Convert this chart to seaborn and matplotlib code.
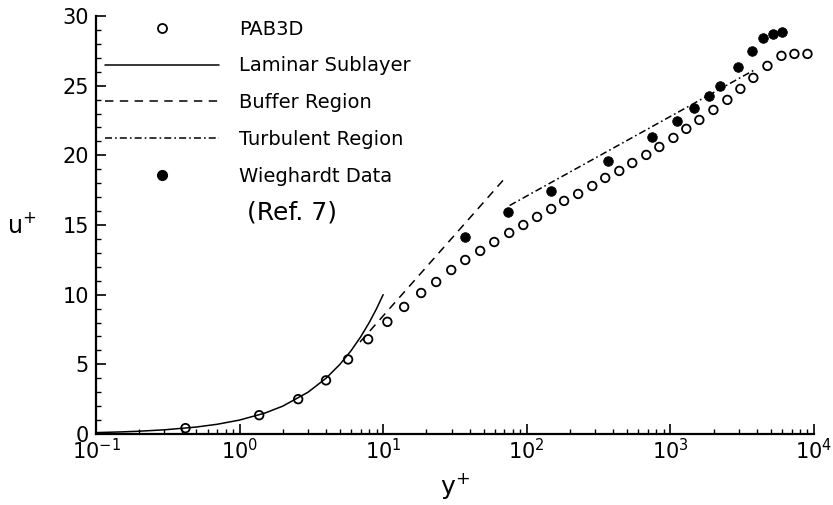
import matplotlib
matplotlib.use("Agg")
import matplotlib.pyplot as plt
import seaborn as sns
import numpy as np
from matplotlib.lines import Line2D
from matplotlib.ticker import LogLocator, MultipleLocator

# PAB3D computed profile (open circles)
pab_y = [0.42, 1.37, 2.56, 4.0, 5.7, 7.86, 10.7, 14.0, 18.4, 23.4, 29.8, 37.3, 47.4, 59.4,
         75.5, 94.6, 118, 148, 182, 228, 286, 352, 441, 543, 680, 838, 1050, 1292, 1592,
         1995, 2495, 3075, 3785, 4744, 5940, 7311, 9015]
pab_u = [0.42, 1.35, 2.5, 3.85, 5.35, 6.8, 8.05, 9.12, 10.12, 10.91, 11.77, 12.49, 13.14, 13.78,
         14.43, 15.0, 15.58, 16.15, 16.73, 17.23, 17.8, 18.38, 18.88, 19.45, 20.03, 20.6, 21.25,
         21.9, 22.54, 23.26, 23.98, 24.77, 25.56, 26.42, 27.14, 27.28, 27.28]

# Wieghardt experimental data (filled circles)
wie_y = [37.3, 74.3, 148, 370, 750, 1119, 1469, 1871, 2230, 2978, 3727, 4448, 5224, 6030]
wie_u = [14.14, 15.94, 17.44, 19.6, 21.32, 22.47, 23.4, 24.26, 24.98, 26.35, 27.49, 28.43, 28.71, 28.86]

# law of the wall regions
lam_y = [0.1, 0.15, 0.2, 0.3, 0.5, 0.7, 1, 1.5, 2, 3, 4, 5, 6, 7, 8, 9, 10]
lam_u = [0.1, 0.15, 0.2, 0.3, 0.5, 0.7, 1, 1.5, 2, 3, 4, 5, 6, 7, 8, 9, 10]
buf_y = [6.9, 68.3]
buf_u = [6.6, 18.2]
turb_y = [76, 3800]
turb_u = [16.4, 26.1]

DASH = [5.5, 4.2]
DASHDOT = [4.6, 2.0, 1.1, 2.0]

sns.set_style("ticks")
plt.rcParams['font.family'] = ['DejaVu Sans']
plt.rcParams['mathtext.default'] = 'regular'
plt.rcParams['text.color'] = 'black'
plt.rcParams['axes.labelcolor'] = 'black'

fig = plt.figure(figsize=(8.33, 5.05), dpi=100)
ax = fig.add_axes([0.1152, 0.1406, 0.8619, 0.8277])

sns.lineplot(x=lam_y, y=lam_u, ax=ax, color="black", lw=1.1, estimator=None, sort=False)
sns.lineplot(x=buf_y, y=buf_u, ax=ax, color="black", lw=1.1, estimator=None)
ax.lines[-1].set_dashes(DASH)
sns.lineplot(x=turb_y, y=turb_u, ax=ax, color="black", lw=1.1, estimator=None)
ax.lines[-1].set_dashes(DASHDOT)
sns.scatterplot(x=pab_y, y=pab_u, ax=ax, s=38, facecolor="none", edgecolor="black", linewidth=1.3)
sns.scatterplot(x=wie_y, y=wie_u, ax=ax, s=48, color="black", edgecolor="black")

ax.set_xscale("log")
ax.set_xlim(0.1, 1e4)
ax.set_ylim(0, 30)
ax.xaxis.set_major_locator(LogLocator(base=10, numticks=10))
ax.xaxis.set_minor_locator(LogLocator(base=10, subs=np.arange(2, 10), numticks=20))
ax.yaxis.set_major_locator(MultipleLocator(5))
ax.yaxis.set_minor_locator(MultipleLocator(1))

sns.despine(ax=ax)
for s in ["left", "bottom"]:
    ax.spines[s].set_linewidth(1.6)
    ax.spines[s].set_color("black")
ax.tick_params(which="major", direction="in", length=7, width=1.2, labelsize=15, colors="black")
ax.tick_params(axis="x", which="major", pad=3)
ax.tick_params(axis="y", which="major", pad=5)
ax.tick_params(which="minor", direction="in", length=3.5, width=1.0, colors="black")

ax.set_xlabel("y$^{+}$", fontsize=18, va="top")
ax.xaxis.set_label_coords(0.5, -0.088)
ax.set_ylabel("u$^{+}$", fontsize=17, rotation=0, va="center", ha="center")
ax.yaxis.set_label_coords(-0.103, 0.5)

handles = [
    Line2D([], [], marker="o", ls="none", markerfacecolor="none", markeredgecolor="black",
           markersize=6.5, markeredgewidth=1.3),
    Line2D([], [], color="black", lw=1.1),
    Line2D([], [], color="black", lw=1.1, dashes=DASH),
    Line2D([], [], color="black", lw=1.1, dashes=DASHDOT),
    Line2D([], [], marker="o", ls="none", color="black", markersize=7),
]
labels = ["PAB3D", "Laminar Sublayer", "Buffer Region", "Turbulent Region", "Wieghardt Data"]
ax.legend(handles, labels, loc="upper left", bbox_to_anchor=(0.012, 0.991), frameon=False,
          fontsize=14, handlelength=5.9, handletextpad=1.0, labelspacing=0.91,
          borderpad=0, borderaxespad=0)
ax.text(0.21, 0.53, "(Ref. 7)", transform=ax.transAxes, fontsize=18, va="center", ha="left")

plt.savefig("out.png", dpi=100)
plt.close()
